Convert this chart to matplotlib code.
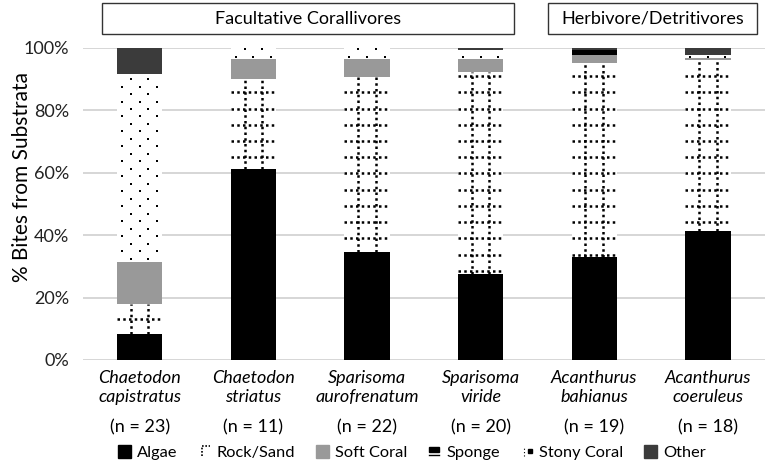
import numpy as np
import matplotlib
matplotlib.use("Agg")
import matplotlib.pyplot as plt
from matplotlib.patches import Rectangle, Patch
from matplotlib.legend_handler import HandlerBase
from matplotlib.lines import Line2D

plt.rcParams["font.family"] = ["Lato", "DejaVu Sans"]

species = ["Chaetodon\ncapistratus", "Chaetodon\nstriatus", "Sparisoma\naurofrenatum",
           "Sparisoma\nviride", "Acanthurus\nbahianus", "Acanthurus\ncoeruleus"]
n_fish = [23, 11, 22, 20, 19, 18]

# percent of bites, stacked bottom -> top
algae = [8.3, 61.3, 34.5, 27.5, 33.0, 41.5]
rock_sand = [9.7, 28.7, 56.2, 64.8, 62.1, 54.7]
soft_coral = [13.3, 6.5, 5.8, 4.2, 2.7, 0.5]
sponge = [0.0, 0.0, 0.0, 0.0, 1.7, 0.0]
stony_coral = [60.4, 3.5, 3.5, 2.9, 0.0, 1.1]
other = [8.3, 0.0, 0.0, 0.6, 0.5, 2.2]

groups = ["Facultative Corallivores", "Herbivore/Detritivores"]

W = 0.4
DOT = (0, (1, 1.3))
fig = plt.figure(figsize=(7.67, 4.66), dpi=100)
ax = fig.add_axes([0.108, 0.2275, 0.889, 0.6695])

x = np.arange(len(species))
bottom = np.zeros(len(species))

ax.bar(x, algae, W, bottom=bottom, color="black", zorder=3)
bottom += algae

# rock/sand: white with a dotted grid
ax.bar(x, rock_sand, W, bottom=bottom, color="white", zorder=3)
for xi, b, h in zip(x, bottom, rock_sand):
    t = b + h
    if h <= 0:
        continue
    for dx in (-0.077, 0.077):
        ax.vlines(xi + dx, b, t, color="black", lw=1.8, linestyles=DOT, zorder=4)
    for yy in np.arange(2.6, 100, 5.2):
        if b + 0.8 < yy < t - 0.8:
            ax.hlines(yy, xi - W / 2, xi + W / 2, color="black", lw=1.8,
                      linestyles=DOT, zorder=4)
bottom += rock_sand

ax.bar(x, soft_coral, W, bottom=bottom, color="#999999", zorder=3)
bottom += soft_coral

ax.bar(x, sponge, W, bottom=bottom, color="black", hatch="-", edgecolor="white",
       linewidth=0, zorder=3)
bottom += sponge

# stony coral: white with staggered small dots
ax.bar(x, stony_coral, W, bottom=bottom, color="white", zorder=3)
for xi, b, h in zip(x, bottom, stony_coral):
    t = b + h
    if h <= 0:
        continue
    for k, yy in enumerate(np.arange(1.25, 100, 2.4)):
        if b + 0.4 < yy < t - 0.2:
            offs = (-0.155, 0.0, 0.155) if k % 2 == 0 else (-0.077, 0.077)
            ax.scatter([xi + d for d in offs], [yy] * len(offs), marker="s", s=4,
                       color="black", linewidths=0, zorder=4)
bottom += stony_coral

ax.bar(x, other, W, bottom=bottom, color="#3b3b3b", zorder=3)

ax.set_xlim(-0.5, len(species) - 0.5)
ax.set_ylim(0, 100)
ax.set_yticks(np.arange(0, 101, 20))
ax.set_yticklabels([f"{v}%" for v in range(0, 101, 20)], fontsize=13, color="#222222")
ax.grid(True, axis="y", color="#d0d0d0", lw=1.2, zorder=0)
ax.tick_params(axis="y", length=0, pad=10)
ax.tick_params(axis="x", length=0, labelbottom=False)
for s in ax.spines.values():
    s.set_visible(False)
ax.set_ylabel("% Bites from Substrata", fontsize=15)
ax.yaxis.set_label_coords(-0.074, 0.585)

tr = ax.get_xaxis_transform()
for xi, sp, n in zip(x, species, n_fish):
    ax.text(xi, -0.032, sp, transform=tr, ha="center", va="top", fontsize=13,
            style="italic", linespacing=1.22)
    ax.text(xi, -0.216, f"(n = {n})", transform=tr, ha="center", va="center", fontsize=13)

# group boxes
for (x0, x1), label in zip([(0.133, 0.670), (0.7145, 0.987)], groups):
    fig.patches.append(Rectangle((x0, 0.927), x1 - x0, 0.0666, transform=fig.transFigure,
                                 fill=False, edgecolor="#333333", lw=1.0))
    fig.text((x0 + x1) / 2, 0.96, label, ha="center", va="center", fontsize=13)


class SpongeHandler(HandlerBase):
    def create_artists(self, legend, orig, xd, yd, w, h, fontsize, trans):
        r = Rectangle((xd + w * 0.15, yd + h * 0.35), w * 0.7, h * 0.4, color="black",
                      transform=trans)
        l = Line2D([xd + w * 0.15, xd + w * 0.85], [yd + h * 0.1] * 2, color="black",
                   lw=1, transform=trans)
        return [r, l]


class RockHandler(HandlerBase):
    def create_artists(self, legend, orig, xd, yd, w, h, fontsize, trans):
        a = Line2D([xd + w * 0.3] * 2, [yd, yd + h * 0.8], color="black", lw=1.2,
                   ls=(0, (1, 1)), transform=trans)
        b = Line2D([xd + w * 0.3, xd + w * 0.9], [yd + h * 0.8] * 2, color="black", lw=1.2,
                   ls=(0, (1, 1)), transform=trans)
        return [a, b]


class StonyHandler(HandlerBase):
    def create_artists(self, legend, orig, xd, yd, w, h, fontsize, trans):
        a = Line2D([xd + w * 0.3] * 2, [yd, yd + h * 0.8], color="black", lw=0.8,
                   ls=(0, (1, 2)), transform=trans)
        b = Line2D([xd + w * 0.7], [yd + h * 0.4], marker="s", ms=2.5, color="black",
                   transform=trans)
        return [a, b]


h_algae = Patch(color="black")
h_rock = Patch(color="white")
h_soft = Patch(color="#999999")
h_sponge = Patch(color="black")
h_stony = Patch(color="white")
h_other = Patch(color="#3b3b3b")
fig.legend([h_algae, h_rock, h_soft, h_sponge, h_stony, h_other],
           ["Algae", "Rock/Sand", "Soft Coral", "Sponge", "Stony Coral", "Other"],
           handler_map={h_rock: RockHandler(), h_sponge: SpongeHandler(),
                        h_stony: StonyHandler()},
           loc="center", bbox_to_anchor=(0.537, 0.029), ncol=6, frameon=False,
           fontsize=11.8, handlelength=0.8, handleheight=0.8, handletextpad=0.35,
           columnspacing=1.25)

fig.savefig("out.png", dpi=100)
